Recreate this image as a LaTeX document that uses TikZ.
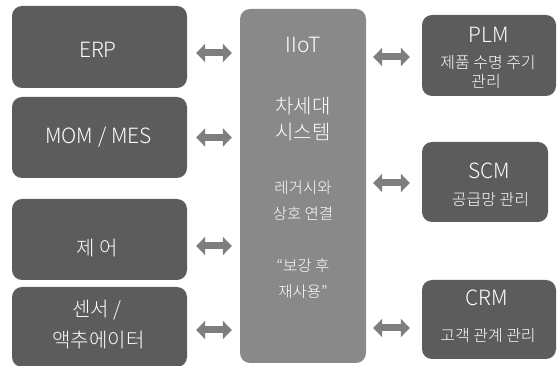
\documentclass[tikz,border=0pt]{standalone}
\usepackage{fontspec}
\setmainfont{Noto Sans CJK KR Light}
\usetikzlibrary{arrows.meta}
\definecolor{boxdark}{HTML}{5C5C5C}
\definecolor{boxmid}{HTML}{898989}
\definecolor{arrowgray}{HTML}{7E7E7E}
\begin{document}
\begin{tikzpicture}[x=1pt,y=-1pt,
  darkbox/.style={fill=boxdark, rounded corners=10pt, inner sep=0pt},
  midbox/.style={fill=boxmid, rounded corners=10pt, inner sep=0pt},
  txt/.style={text=white, inner sep=0pt, align=center},
  latbig/.style={txt, font=\fontsize{21}{25}\selectfont},
  korbig/.style={txt, font=\fontsize{20}{24}\selectfont},
  korsmall/.style={txt, font=\fontsize{15.5}{19}\selectfont},
  korsub/.style={txt, font=\fontsize{16}{19}\selectfont},
  biarrow/.style={draw=arrowgray, line width=7pt,
    {Triangle[width=18pt,length=9pt]}-{Triangle[width=18pt,length=9pt]}}
]
\useasboundingbox (0,0) rectangle (558,366);
% left boxes
\node[darkbox, minimum width=175pt, minimum height=82pt] (erp) at (99.5,47) {};
\node[darkbox, minimum width=175pt, minimum height=81pt] (mom) at (99.5,137.5) {};
\node[darkbox, minimum width=175pt, minimum height=81pt] (ctl) at (99.5,239.5) {};
\node[darkbox, minimum width=175pt, minimum height=80pt] (sen) at (99.5,327) {};
% center box
\node[midbox, minimum width=126pt, minimum height=354pt] (iot) at (303,186) {};
% right boxes
\node[darkbox, minimum width=134pt, minimum height=81pt] (plm) at (489,55.5) {};
\node[darkbox, minimum width=126pt, minimum height=80pt] (scm) at (485,182) {};
\node[darkbox, minimum width=134pt, minimum height=79pt] (crm) at (489,319.5) {};
% left texts
\node[latbig] (terp) at (98,50) {ERP};
\node[latbig] (tmom) at (98.5,137.5) {MOM / MES};
\node[korbig] (tctl) at (97,248) {제 어};
\node[korbig] (tsen1) at (97,310) {센서 /};
\node[korbig] (tsen2) at (98.5,340) {액추에이터};
% center texts
\node[latbig] (tiot) at (303,45) {IIoT};
\node[korbig] (tnext1) at (303,106) {차세대};
\node[korbig] (tnext2) at (303,132) {시스템};
\node[korsmall] (tleg1) at (303,188) {레거시와};
\node[korsmall] (tleg2) at (303,214) {상호 연결};
\node[korsmall] (tre1) at (303,266) {“보강 후};
\node[korsmall] (tre2) at (303,292) {재사용”};
% right texts
\node[latbig] (tplm) at (489,35) {PLM};
\node[korsub] (tplm1) at (488,63) {제품 수명 주기};
\node[korsub] (tplm2) at (486,82) {관리};
\node[latbig] (tscm) at (489.5,171) {SCM};
\node[korsub] (tscm1) at (490.5,200) {공급망 관리};
\node[latbig] (tcrm) at (487,298) {CRM};
\node[korsub] (tcrm1) at (488,336) {고객 관계 관리};
% connectors
\draw[biarrow] ([xshift=9pt,yshift=-6pt]erp.east) -- ([xshift=-8pt,yshift=-6pt]erp.east -| iot.west);
\draw[biarrow] ([xshift=9pt]mom.east) -- ([xshift=-8pt]mom.east -| iot.west);
\draw[biarrow] ([xshift=9pt,yshift=-6.5pt]ctl.east) -- ([xshift=-8pt,yshift=-6.5pt]ctl.east -| iot.west);
\draw[biarrow] ([xshift=9pt,yshift=-3pt]sen.east) -- ([xshift=-8pt,yshift=-3pt]sen.east -| iot.west);
\draw[biarrow] ([xshift=7pt,yshift=-1.5pt]iot.east |- plm.west) -- ([xshift=-12pt,yshift=-1.5pt]plm.west);
\draw[biarrow] ([xshift=7pt,yshift=-1pt]iot.east |- scm.west) -- ([xshift=-12pt,yshift=-1pt]scm.west);
\draw[biarrow] ([xshift=7pt,yshift=-8.5pt]iot.east |- crm.west) -- ([xshift=-12pt,yshift=-8.5pt]crm.west);
\end{tikzpicture}
\end{document}
